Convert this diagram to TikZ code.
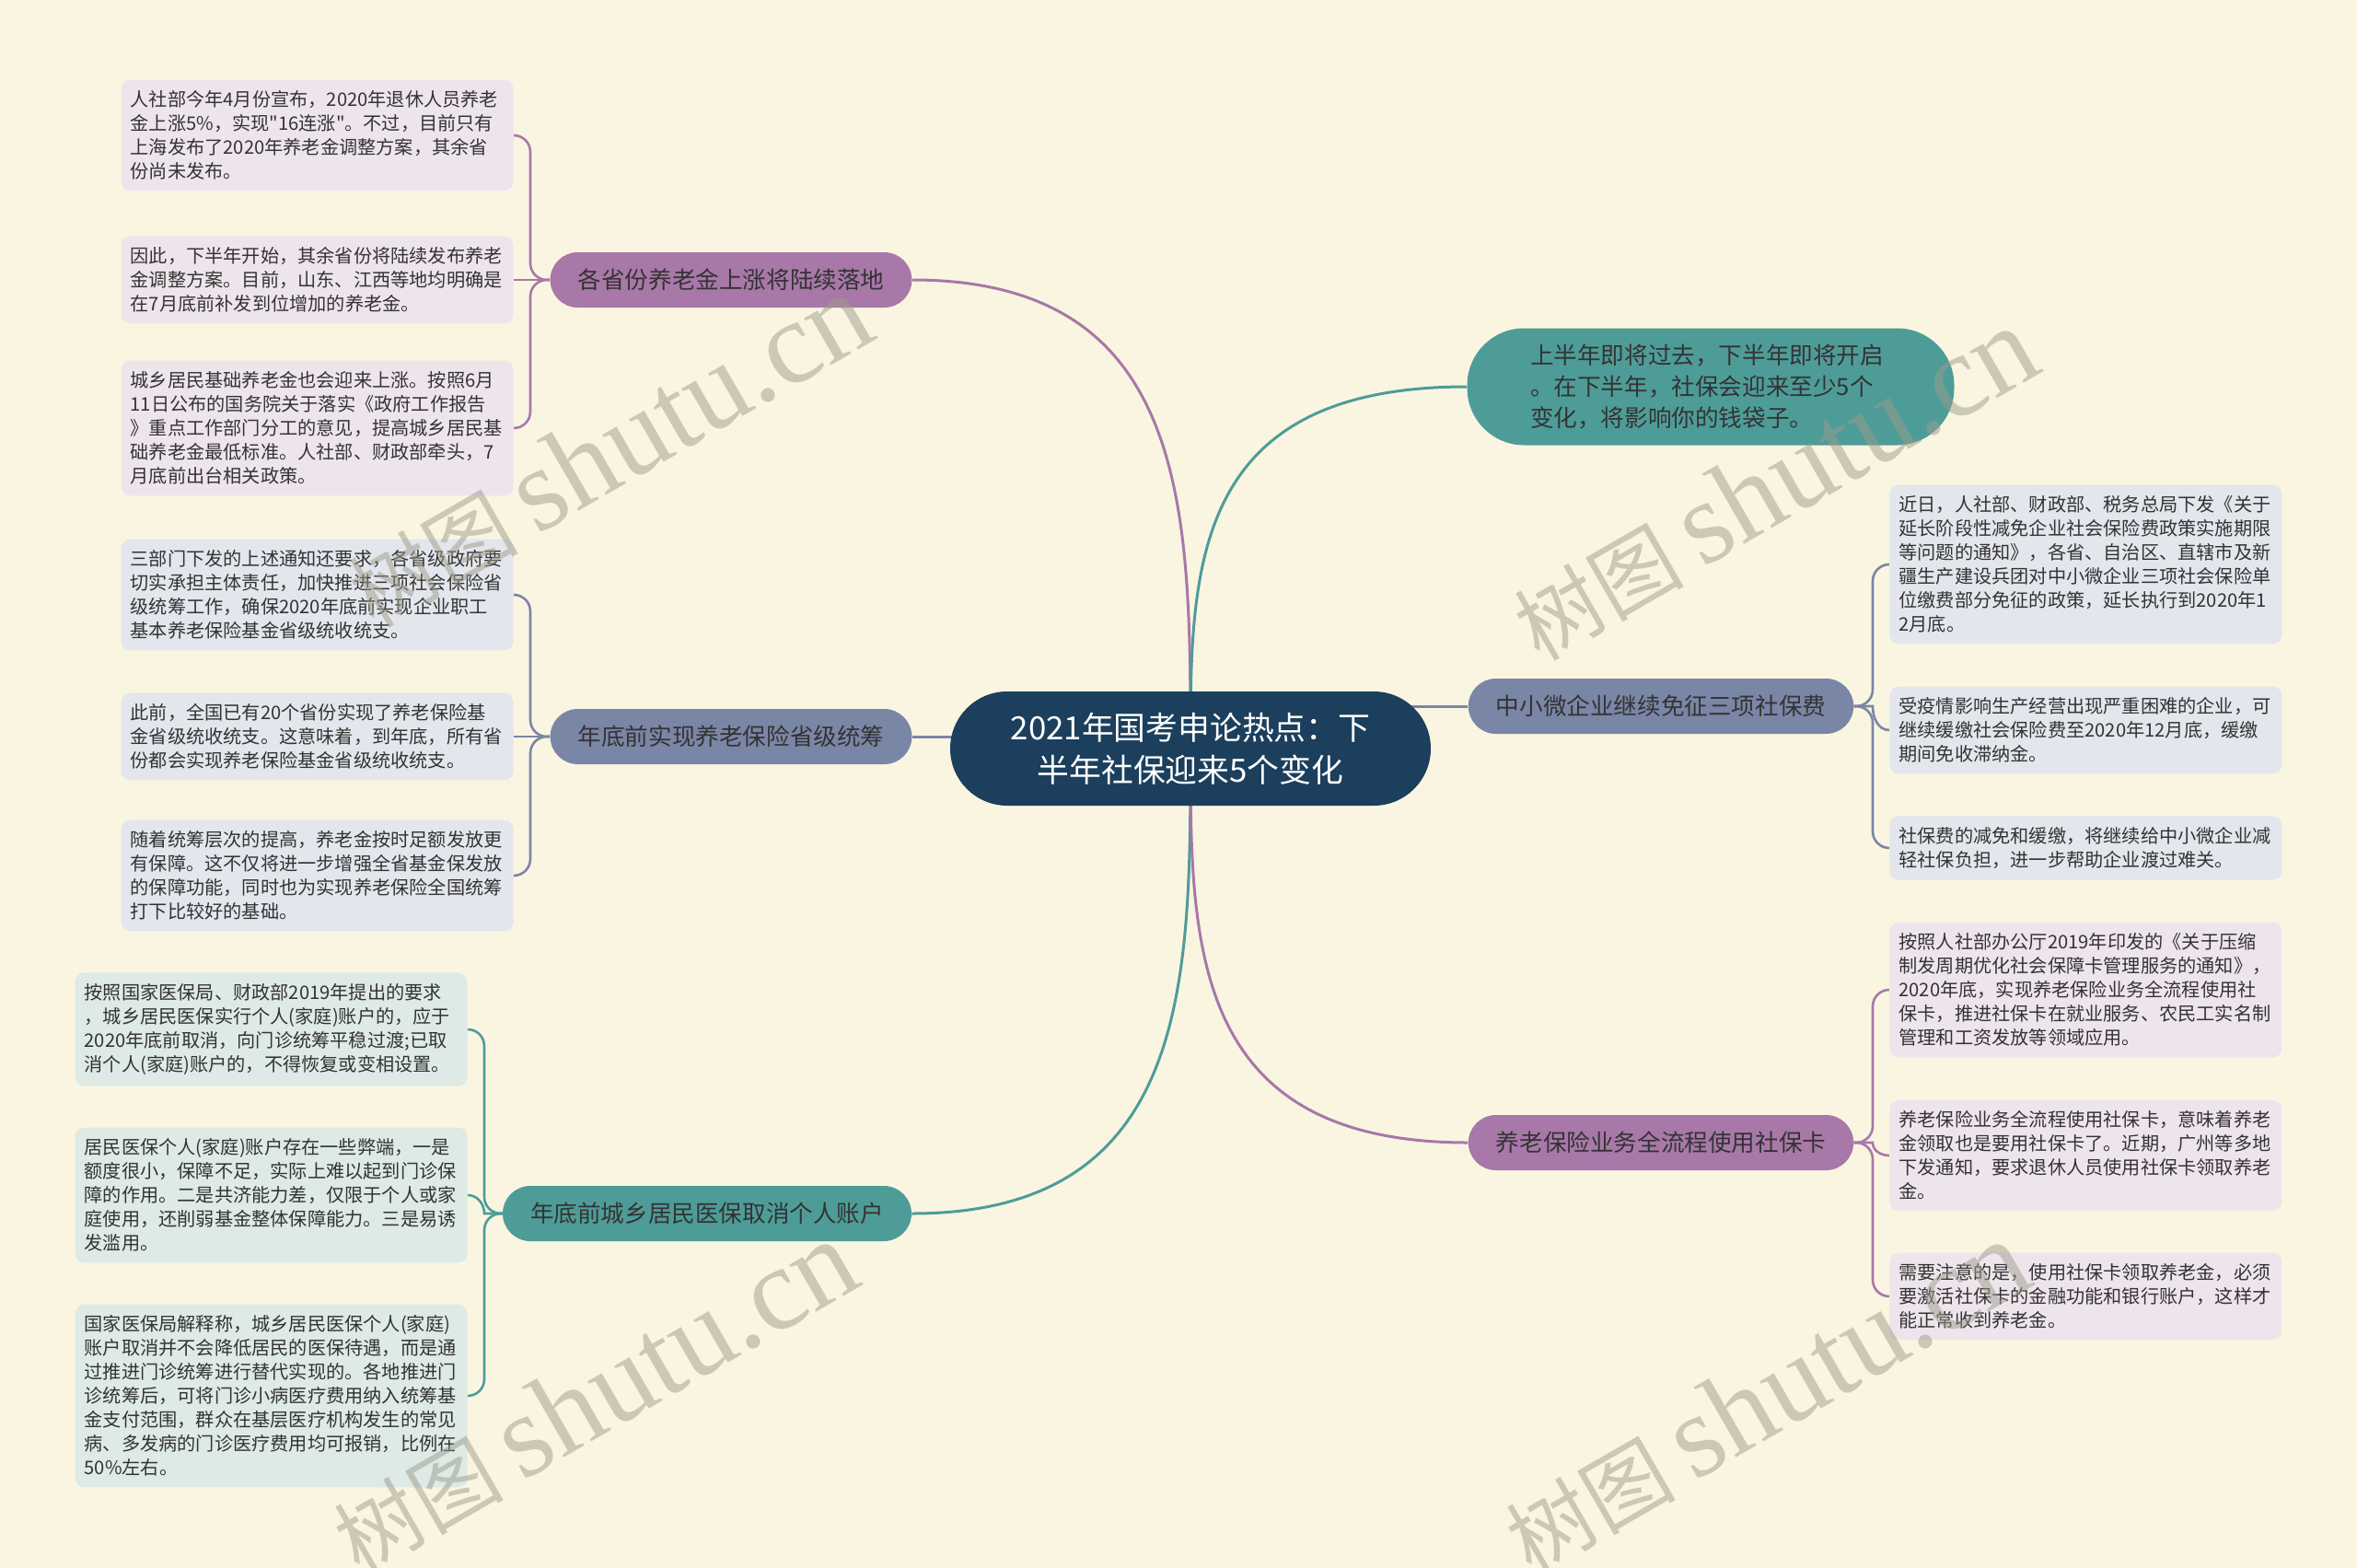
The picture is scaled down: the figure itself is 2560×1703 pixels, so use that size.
\documentclass[tikz,border=0pt]{standalone}
\usepackage{fontspec}
\setmainfont{Noto Sans CJK SC}[Ligatures=TeXOff]
\newfontfamily\wmlatin{Liberation Serif}
\definecolor{bgc}{HTML}{FAF5E1}
\definecolor{ctr}{HTML}{1B3F5C}
\definecolor{pur}{HTML}{A878A8}
\definecolor{purL}{HTML}{EEE5EC}
\definecolor{sla}{HTML}{7A86A6}
\definecolor{slaL}{HTML}{E3E6EC}
\definecolor{tea}{HTML}{4E9C98}
\definecolor{teaL}{HTML}{DDEAE6}
\definecolor{txt}{HTML}{333333}
\definecolor{wm}{HTML}{9E9C8C}
\pgfdeclarelayer{bgfill}
\pgfdeclarelayer{connlayer}
\pgfsetlayers{bgfill,connlayer,main}
\begin{document}
\begin{tikzpicture}[x=0.5pt,y=-0.5pt,
  leaf/.style={rounded corners=5pt, inner xsep=5pt, inner ysep=6pt, text width=203pt, align=left, font=\fontsize{10.1}{13}\selectfont, text=txt},
  branch/.style={rounded corners=15pt, inner xsep=15pt, minimum height=30pt, font=\fontsize{12.8}{16}\selectfont, text=txt},
  mainline/.style={line width=1.5pt},
  leafline/.style={line width=1.3pt, rounded corners=9pt},
  wmark/.style={rotate=30, text=wm, opacity=0.5, inner sep=0pt}
]
\useasboundingbox (0,0) rectangle (2560,1703);
\begin{pgfonlayer}{bgfill}
\fill[bgc] (0,0) rectangle (2560,1703);
\end{pgfonlayer}

% central
\node[fill=ctr, text=white, rounded corners=31pt, minimum width=261pt, minimum height=62pt, align=center, font=\fontsize{17.4}{23}\selectfont] (c) at (1293,813) {2021年国考申论热点：下\\半年社保迎来5个变化};

% branches
\node[branch, fill=pur] (b1) at (794,304) {各省份养老金上涨将陆续落地};
\node[branch, fill=sla] (b2) at (794,800) {年底前实现养老保险省级统筹};
\node[branch, fill=tea] (b3) at (768,1318) {年底前城乡居民医保取消个人账户};
\node[fill=tea, rounded corners=31pt, minimum width=264.5pt, minimum height=63.5pt, text width=196pt, align=left, font=\fontsize{12.8}{17}\selectfont, text=txt] (r1) at (1858,420) {上半年即将过去，下半年即将开启\\。在下半年，社保会迎来至少5个\\变化，将影响你的钱袋子。};
\node[branch, fill=sla] (r2) at (1804,767) {中小微企业继续免征三项社保费};
\node[branch, fill=pur] (r3) at (1804,1241) {养老保险业务全流程使用社保卡};

% left purple leaves
\node[leaf, fill=purL, anchor=east] (l1a) at (558,147) {人社部今年4月份宣布，2020年退休人员养老\\金上涨5\%，实现"16连涨"。不过，目前只有\\上海发布了2020年养老金调整方案，其余省\\份尚未发布。};
\node[leaf, fill=purL, anchor=east] (l1b) at (558,304) {因此，下半年开始，其余省份将陆续发布养老\\金调整方案。目前，山东、江西等地均明确是\\在7月底前补发到位增加的养老金。};
\node[leaf, fill=purL, anchor=east] (l1c) at (558,465) {城乡居民基础养老金也会迎来上涨。按照6月\\11日公布的国务院关于落实《政府工作报告\\》重点工作部门分工的意见，提高城乡居民基\\础养老金最低标准。人社部、财政部牵头，7\\月底前出台相关政策。};

% left slate leaves
\node[leaf, fill=slaL, anchor=east] (l2a) at (558,646) {三部门下发的上述通知还要求，各省级政府要\\切实承担主体责任，加快推进三项社会保险省\\级统筹工作，确保2020年底前实现企业职工\\基本养老保险基金省级统收统支。};
\node[leaf, fill=slaL, anchor=east] (l2b) at (558,800) {此前，全国已有20个省份实现了养老保险基\\金省级统收统支。这意味着，到年底，所有省\\份都会实现养老保险基金省级统收统支。};
\node[leaf, fill=slaL, anchor=east] (l2c) at (558,951) {随着统筹层次的提高，养老金按时足额发放更\\有保障。这不仅将进一步增强全省基金保发放\\的保障功能，同时也为实现养老保险全国统筹\\打下比较好的基础。};

% left teal leaves
\node[leaf, fill=teaL, anchor=east] (l3a) at (508,1118) {按照国家医保局、财政部2019年提出的要求\\，城乡居民医保实行个人(家庭)账户的，应于\\2020年底前取消，向门诊统筹平稳过渡;已取\\消个人(家庭)账户的，不得恢复或变相设置。};
\node[leaf, fill=teaL, anchor=east] (l3b) at (508,1298) {居民医保个人(家庭)账户存在一些弊端，一是\\额度很小，保障不足，实际上难以起到门诊保\\障的作用。二是共济能力差，仅限于个人或家\\庭使用，还削弱基金整体保障能力。三是易诱\\发滥用。};
\node[leaf, fill=teaL, anchor=east] (l3c) at (508,1516) {国家医保局解释称，城乡居民医保个人(家庭)\\账户取消并不会降低居民的医保待遇，而是通\\过推进门诊统筹进行替代实现的。各地推进门\\诊统筹后，可将门诊小病医疗费用纳入统筹基\\金支付范围，群众在基层医疗机构发生的常见\\病、多发病的门诊医疗费用均可报销，比例在\\50\%左右。};

% right slate leaves
\node[leaf, fill=slaL, anchor=west] (r2a) at (2052,613) {近日，人社部、财政部、税务总局下发《关于\\延长阶段性减免企业社会保险费政策实施期限\\等问题的通知》，各省、自治区、直辖市及新\\疆生产建设兵团对中小微企业三项社会保险单\\位缴费部分免征的政策，延长执行到2020年1\\2月底。};
\node[leaf, fill=slaL, anchor=west] (r2b) at (2052,793) {受疫情影响生产经营出现严重困难的企业，可\\继续缓缴社会保险费至2020年12月底，缓缴\\期间免收滞纳金。};
\node[leaf, fill=slaL, anchor=west] (r2c) at (2052,921) {社保费的减免和缓缴，将继续给中小微企业减\\轻社保负担，进一步帮助企业渡过难关。};

% right purple leaves
\node[leaf, fill=purL, anchor=west] (r3a) at (2052,1075) {按照人社部办公厅2019年印发的《关于压缩\\制发周期优化社会保障卡管理服务的通知》，\\2020年底，实现养老保险业务全流程使用社\\保卡，推进社保卡在就业服务、农民工实名制\\管理和工资发放等领域应用。};
\node[leaf, fill=purL, anchor=west] (r3b) at (2052,1255) {养老保险业务全流程使用社保卡，意味着养老\\金领取也是要用社保卡了。近期，广州等多地\\下发通知，要求退休人员使用社保卡领取养老\\金。};
\node[leaf, fill=purL, anchor=west] (r3c) at (2052,1408) {需要注意的是，使用社保卡领取养老金，必须\\要激活社保卡的金融功能和银行账户，这样才\\能正常收到养老金。};

% connectors
\coordinate (s1) at (576,304);
\coordinate (s2) at (576,800);
\coordinate (s3) at (526,1318);
\coordinate (s4) at (2034,767);
\coordinate (s5) at (2034,1241);
\begin{pgfonlayer}{connlayer}
\draw[mainline, pur] (c.center) .. controls (1293,556) and (1293,304) .. (b1.east);
\draw[mainline, sla] (b2.east) -- (b2.east -| c.center);
\draw[mainline, tea] (c.center) .. controls (1293,1066) and (1293,1318) .. (b3.east);
\draw[mainline, tea] (c.center) .. controls (1293,617) and (1293,420) .. (r1.west);
\draw[mainline, sla] (r2.west) -- (r2.west -| c.center);
\draw[mainline, pur] (c.center) .. controls (1293,1027) and (1293,1241) .. (r3.west);

\draw[leafline, pur] (b1.west) -- (s1) |- (l1a.east);
\draw[leafline, pur] (b1.west) -- (l1b.east);
\draw[leafline, pur] (b1.west) -- (s1) |- (l1c.east);

\draw[leafline, sla] (b2.west) -- (s2) |- (l2a.east);
\draw[leafline, sla] (b2.west) -- (l2b.east);
\draw[leafline, sla] (b2.west) -- (s2) |- (l2c.east);

\draw[leafline, tea] (b3.west) -- (s3) |- (l3a.east);
\draw[line width=1.3pt, tea] (b3.west) -- (s3) to[out=90,in=0] (l3b.east);
\draw[leafline, tea] (b3.west) -- (s3) |- (l3c.east);

\draw[leafline, sla] (r2.east) -- (s4) |- (r2a.west);
\draw[line width=1.3pt, sla] (r2.east) -- (s4) to[out=-90,in=180] (r2b.west);
\draw[leafline, sla] (r2.east) -- (s4) |- (r2c.west);

\draw[leafline, pur] (r3.east) -- (s5) |- (r3a.west);
\draw[line width=1.3pt, pur] (r3.east) -- (s5) to[out=-90,in=180] (r3b.west);
\draw[leafline, pur] (r3.east) -- (s5) |- (r3c.west);
\end{pgfonlayer}

% watermarks
\node[wmark] (w1) at (661,490) {\fontsize{46}{50}\selectfont 树图 {\wmlatin\fontsize{64}{66}\selectfont shutu.cn}};
\node[wmark] (w2) at (1927,526) {\fontsize{46}{50}\selectfont 树图 {\wmlatin\fontsize{64}{66}\selectfont shutu.cn}};
\node[wmark] (w3) at (645,1518) {\fontsize{46}{50}\selectfont 树图 {\wmlatin\fontsize{64}{66}\selectfont shutu.cn}};
\node[wmark] (w4) at (1918,1518) {\fontsize{46}{50}\selectfont 树图 {\wmlatin\fontsize{64}{66}\selectfont shutu.cn}};
\end{tikzpicture}
\end{document}
